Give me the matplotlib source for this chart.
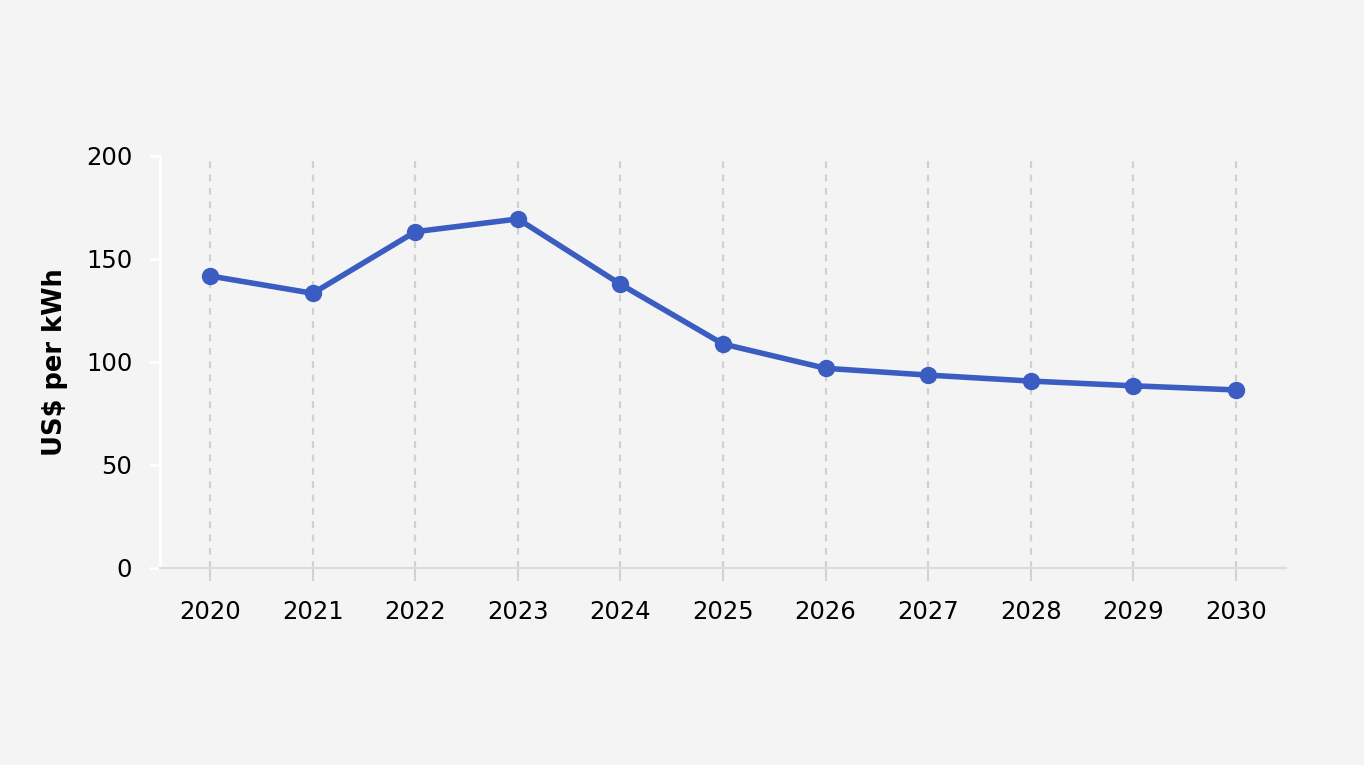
import matplotlib
matplotlib.use("Agg")
import matplotlib.pyplot as plt

years = [2020, 2021, 2022, 2023, 2024, 2025, 2026, 2027, 2028, 2029, 2030]
prices = [141.6, 133.2, 163.1, 169.3, 137.6, 108.6, 96.8, 93.5, 90.6, 88.3, 86.3]
y_ticks = [0, 50, 100, 150, 200]
y_label = "US$ per kWh"

bg = "#f4f4f4"
line_color = "#3b5dc1"

fig = plt.figure(figsize=(13.64, 7.65), dpi=100, facecolor=bg)
ax = fig.add_axes([160/1364, 1 - 567.7/765, (1286-160)/1364, (567.7-155.7)/765])
ax.set_facecolor(bg)

ax.plot(years, prices, color=line_color, linewidth=4.0, marker="o",
        markersize=11.5, zorder=3, solid_capstyle="round")

ax.set_xlim(2019.51, 2030.49)
ax.set_ylim(0, 200)
ax.set_xticks(years)
ax.set_xticklabels([str(y) for y in years])
ax.set_yticks(y_ticks)

ax.grid(axis="x", color="#d0d0d0", linestyle=(0, (3, 3)), linewidth=1.6, zorder=1)
ax.grid(axis="y", visible=False)

for s in ["top", "right"]:
    ax.spines[s].set_visible(False)
ax.spines["left"].set_color("white")
ax.spines["left"].set_linewidth(2)
ax.spines["bottom"].set_color("#dcdcdc")
ax.spines["bottom"].set_linewidth(1.5)

ax.tick_params(axis="y", colors="white", length=8, width=2, labelcolor="black",
               labelsize=17.5, pad=12)
ax.tick_params(axis="x", colors="#d2d2d2", length=9, width=1.5, labelcolor="black",
               labelsize=17.5, pad=14)

ax.set_ylabel(y_label, fontsize=18.5, fontweight="bold", labelpad=13)

fig.savefig("out.png", dpi=100, facecolor=bg)
